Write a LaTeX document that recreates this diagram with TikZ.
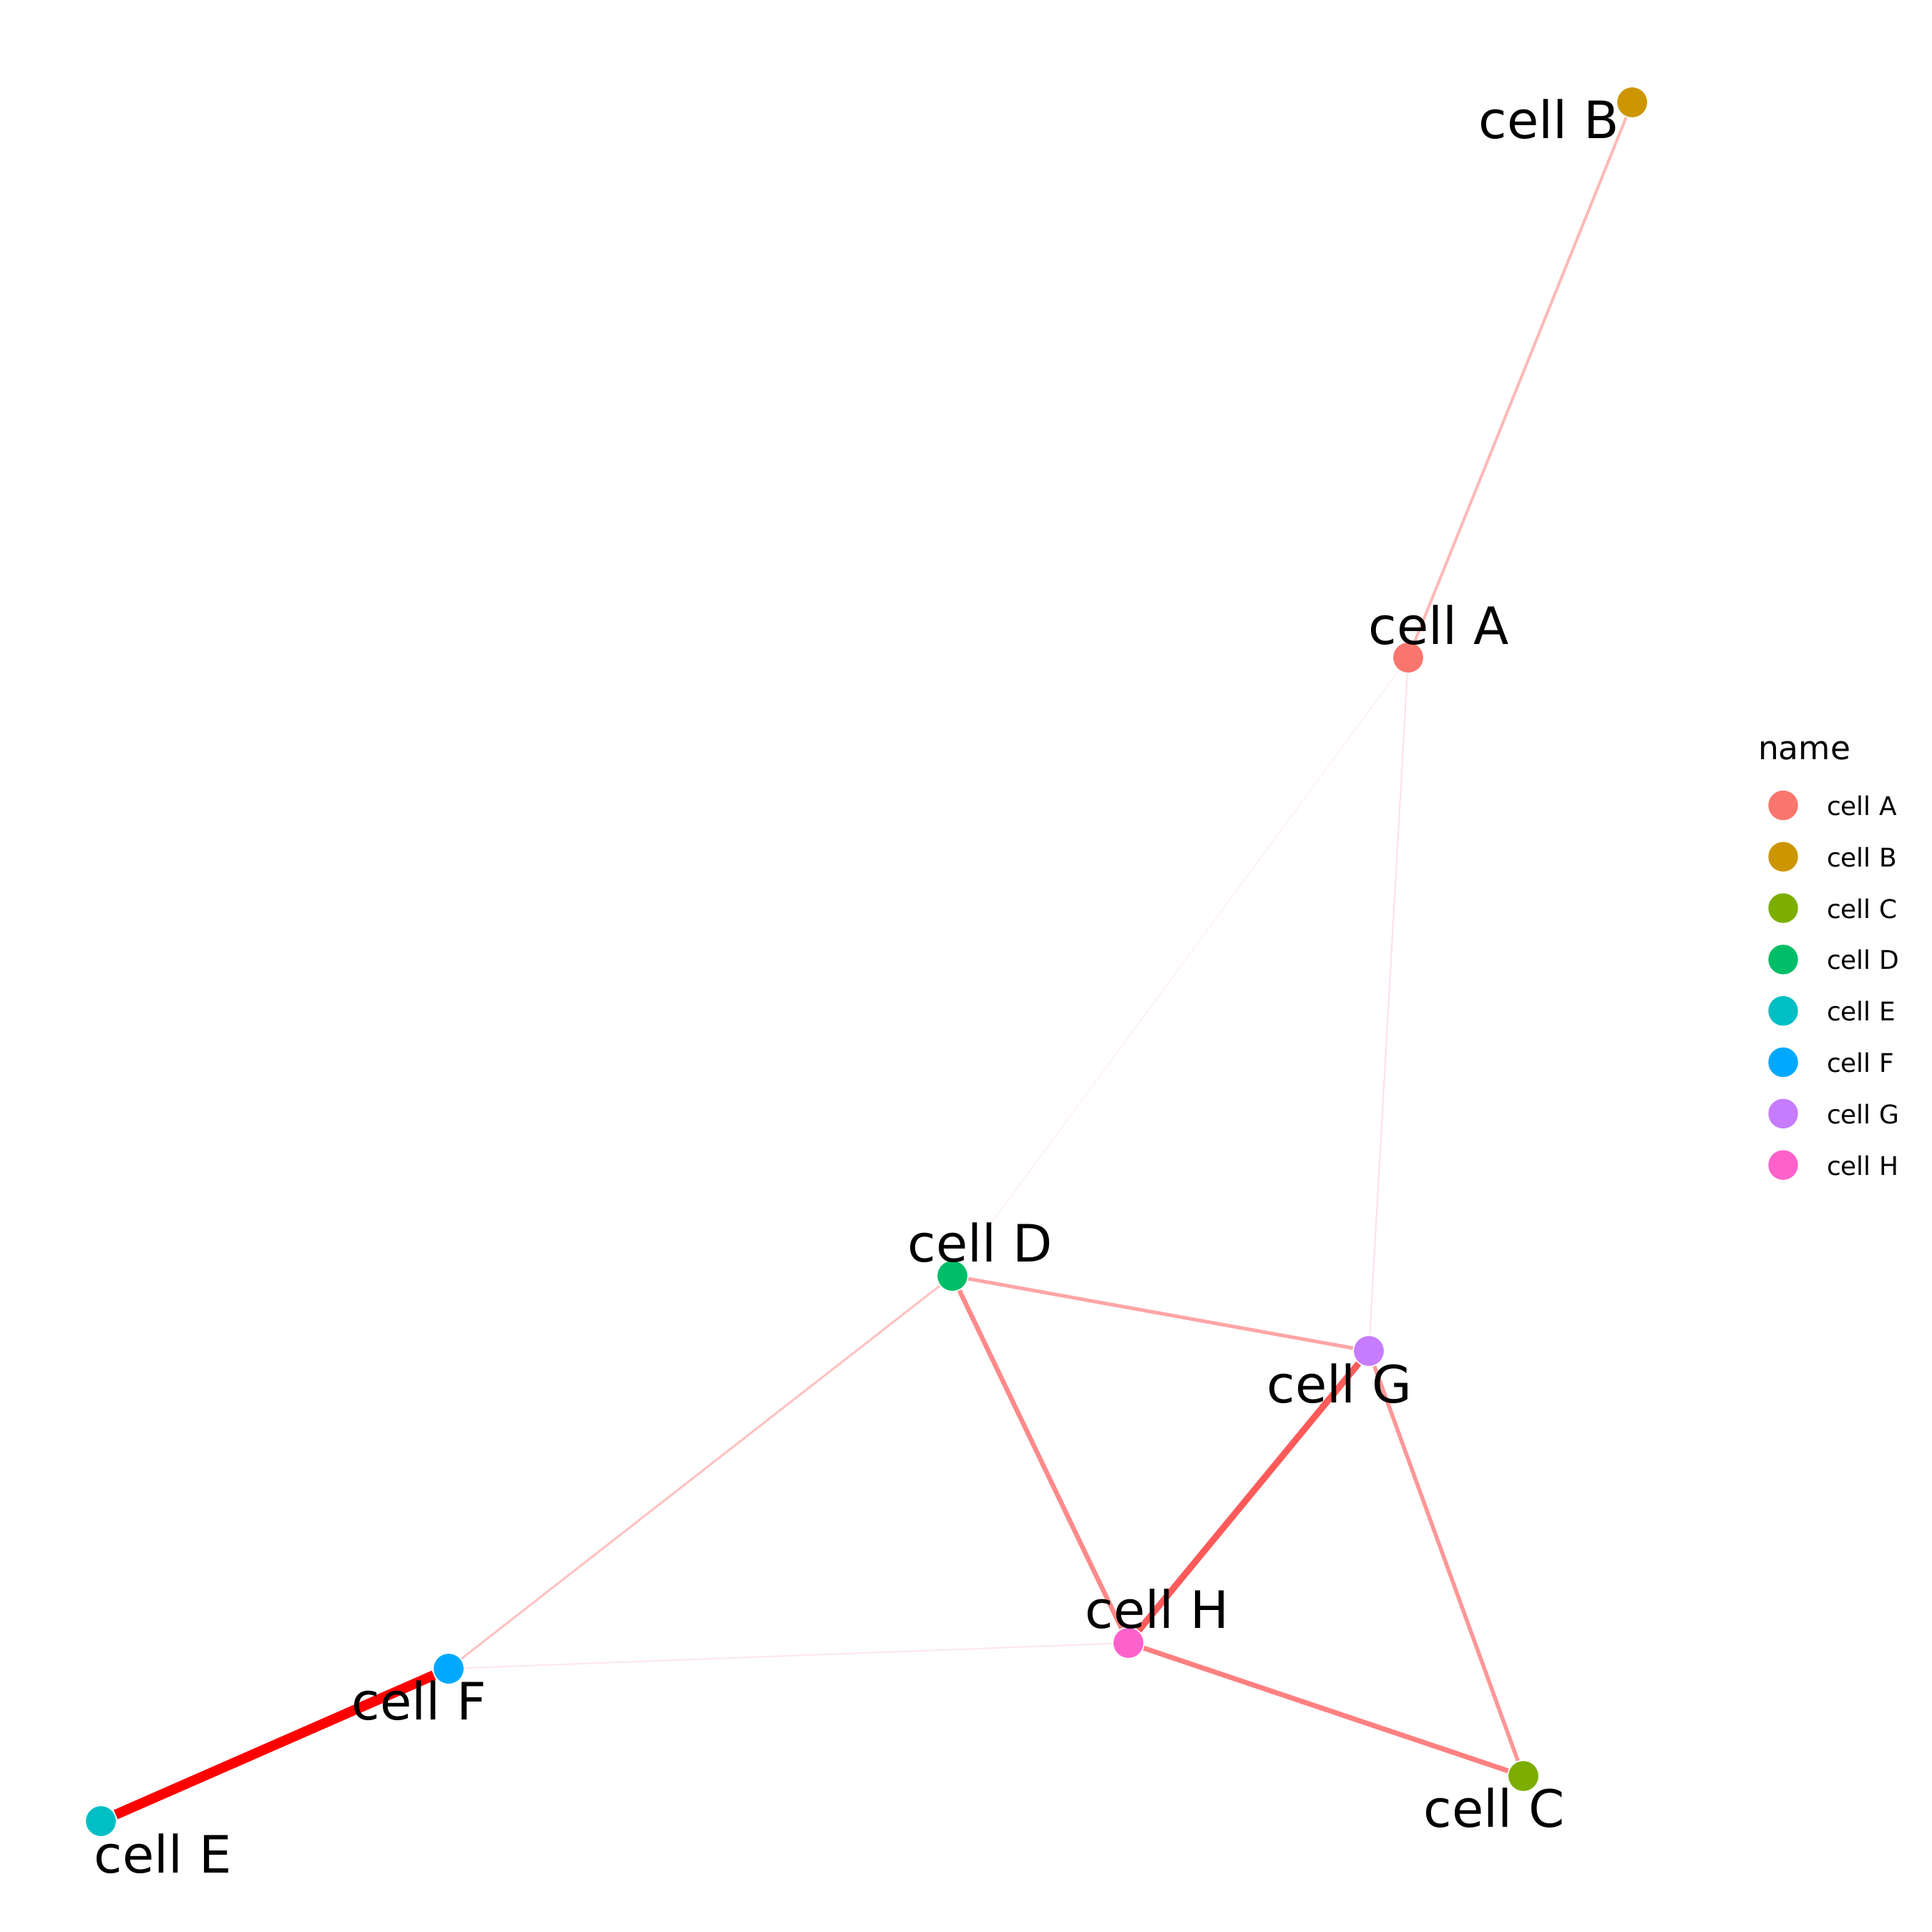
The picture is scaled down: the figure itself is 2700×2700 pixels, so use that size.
\documentclass[tikz,border=0pt]{standalone}
\usepackage{fontspec}
\setmainfont{DejaVu Sans}
\begin{document}
\begin{tikzpicture}[x=0.1pt, y=-0.1pt,
  vertex/.style={circle, fill=#1, draw=none, inner sep=0pt, minimum size=4.14pt},
  vlabel/.style={anchor=base, inner sep=0pt, font=\fontsize{7.2pt}{8pt}\selectfont},
  link/.style 2 args={draw=#1, line width=#2*0.1pt},
  keytext/.style={anchor=base west, inner sep=0pt, font=\fontsize{3.6pt}{4.2pt}\selectfont}]
\useasboundingbox (0,0) rectangle (2700,2700);

% node palette
\definecolor{cA}{HTML}{F8766D}
\definecolor{cB}{HTML}{CD9600}
\definecolor{cC}{HTML}{7CAE00}
\definecolor{cD}{HTML}{00BE67}
\definecolor{cE}{HTML}{00BFC4}
\definecolor{cF}{HTML}{00A9FF}
\definecolor{cG}{HTML}{C77CFF}
\definecolor{cH}{HTML}{FF61CC}
% edge shades
\definecolor{eAB}{HTML}{FFB8B8}
\definecolor{eAD}{HTML}{FFEEEE}
\definecolor{eAG}{HTML}{FFE0E6}
\definecolor{eDG}{HTML}{FFA5A5}
\definecolor{eDH}{HTML}{FF8A8A}
\definecolor{eDF}{HTML}{FFC2C2}
\definecolor{eGH}{HTML}{FF5A5A}
\definecolor{eGC}{HTML}{FF9797}
\definecolor{eHC}{HTML}{FF8080}
\definecolor{eHF}{HTML}{FFE6EA}
\definecolor{eEF}{HTML}{FF0000}

% vertices
\node[vertex=cA] (A) at (1968,919) {};
\node[vertex=cB] (B) at (2281,143) {};
\node[vertex=cC] (C) at (2129,2482) {};
\node[vertex=cD] (D) at (1331,1783) {};
\node[vertex=cE] (E) at (141,2545) {};
\node[vertex=cF] (F) at (627,2332) {};
\node[vertex=cG] (G) at (1913,1888) {};
\node[vertex=cH] (H) at (1577,2296) {};

% edges, thinnest first
\path[link={eAD}{1.2}] (A) -- (D);
\path[link={eAG}{2}] (A) -- (G);
\path[link={eHF}{2}] (H) -- (F);
\path[link={eDF}{3}] (D) -- (F);
\path[link={eAB}{4}] (A) -- (B);
\path[link={eDG}{5}] (D) -- (G);
\path[link={eGC}{5.5}] (G) -- (C);
\path[link={eDH}{6.5}] (D) -- (H);
\path[link={eHC}{7}] (H) -- (C);
\path[link={eGH}{9}] (G) -- (H);
\path[link={eEF}{14}] (E) -- (F);

% vertices painted again over the edge ends
\foreach \v/\c/\x/\y in {A/cA/1968/919, B/cB/2281/143, C/cC/2129/2482, D/cD/1331/1783,
                         E/cE/141/2545, F/cF/627/2332, G/cG/1913/1888, H/cH/1577/2296}
  \fill[\c] (\x,\y) circle[radius=2.07pt];

% vertex labels
\node[vlabel] (lA) at (2011,900) {cell A};
\node[vlabel] (lB) at (2165,193) {cell B};
\node[vlabel] (lC) at (2088,2553) {cell C};
\node[vlabel] (lD) at (1370,1763) {cell D};
\node[vlabel] (lE) at (228,2617) {cell E};
\node[vlabel] (lF) at (586,2403) {cell F};
\node[vlabel] (lG) at (1872,1960) {cell G};
\node[vlabel] (lH) at (1617,2275) {cell H};

% legend
\node[anchor=base west, inner sep=0pt, font=\fontsize{4.55pt}{5.2pt}\selectfont] (key) at (2455,1061) {name};
\foreach \c/\t [count=\i from 0] in {cA/cell A, cB/cell B, cC/cell C, cD/cell D,
                                     cE/cell E, cF/cell F, cG/cell G, cH/cell H} {
  \fill[\c] (2492,1125.5+71.8*\i) circle[radius=2.07pt];
  \node[keytext] (key\i) at (2551,1139.5+71.8*\i) {\t};
}
\end{tikzpicture}
\end{document}
